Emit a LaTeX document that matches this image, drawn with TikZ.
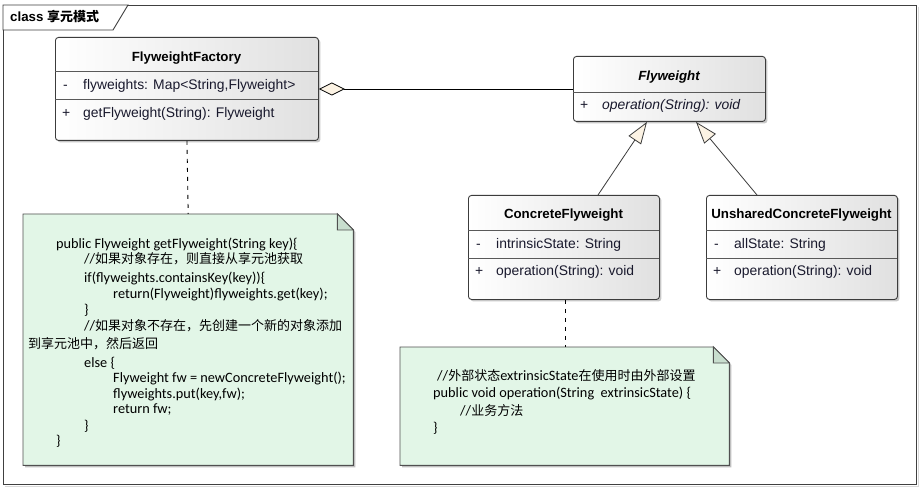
\documentclass[tikz,border=0pt]{standalone}
\usepackage{fontspec}
\setmainfont{Liberation Sans}
\newfontfamily\notefont{Carlito}
\newfontfamily\cjk{Noto Sans CJK SC}
\usetikzlibrary{shadows,calc,arrows.meta}
\definecolor{notefill}{RGB}{226,246,231}
\definecolor{foldfill}{RGB}{200,222,206}
\definecolor{arrowfill}{RGB}{252,243,228}
\definecolor{edgegray}{RGB}{60,60,60}
\definecolor{txt}{RGB}{25,25,45}
\newcommand{\zh}[1]{{\cjk\fontsize{13}{16}\selectfont #1}}
\tikzset{
  classbox/.style={draw=edgegray, line width=0.9pt, rounded corners=3pt, left color=white, right color=black!12,
    drop shadow={shadow xshift=2pt, shadow yshift=-2pt, fill=black!22, opacity=1}, anchor=north west, inner sep=0pt},
  sepline/.style={draw=edgegray!85, line width=0.9pt},
  ctitle/.style={anchor=base, inner sep=0pt, text=black, font=\fontsize{13.3}{15}\selectfont\bfseries},
  ctext/.style={anchor=base west, inner sep=0pt, text=txt, font=\fontsize{13.9}{15}\selectfont},
  notebox/.style={anchor=north west, inner sep=0pt},
  notepath/.style={draw=edgegray!90, line width=0.9pt, fill=notefill,
    drop shadow={shadow xshift=2pt, shadow yshift=-2pt, fill=black!25, opacity=1}},
  foldpath/.style={draw=edgegray!90, line width=0.9pt, fill=foldfill},
  ntext/.style={anchor=base west, inner sep=0pt, text=black, font=\notefont\fontsize{14.3}{16}\selectfont},
  agg/.style={draw=black, line width=0.8pt, {Diamond[length=26pt,width=13pt,fill=arrowfill,line width=0.8pt]}-},
  gen/.style={draw=edgegray, line width=0.8pt, -{Triangle[length=22pt,width=15pt,fill=arrowfill,line width=0.8pt]}},
  notelink/.style={draw=black, line width=0.9pt, dash pattern=on 4pt off 5pt},
}
\begin{document}
\begin{tikzpicture}[x=1pt,y=-1pt]
\useasboundingbox (0,0) rectangle (921,489);
\fill[white] (0,0) rectangle (921,489);
% frame
\draw[black!75, line width=0.9pt] (3,5) rectangle (916,484);
\draw[black!15, line width=1pt] (918,7) -- (918,486) -- (5,486);
\draw[black!75, line width=0.9pt, fill=white] (3,5) -- (128,5) -- (113,30) -- (3,30) -- cycle;
\node[anchor=base west, inner sep=0pt, font=\fontsize{13.3}{15}\selectfont\bfseries] (title) at (10,22) {class \zh{\bfseries 享元模式}};

% FlyweightFactory
\node[classbox, minimum width=263pt, minimum height=103pt] (ff) at (55,37) {};
\draw[sepline] (55,71) -- (318,71);
\draw[sepline] (55,99) -- (318,99);
\node[ctitle] (fft) at (186.5,62) {FlyweightFactory};
\node[ctext] (ffa1) at (63,90) {-};
\node[ctext] (ffa2) at (83,90) {flyweights: Map<String,Flyweight>};
\node[ctext] (ffo1) at (62,118) {+};
\node[ctext] (ffo2) at (83,118) {getFlyweight(String): Flyweight};

% Flyweight
\node[classbox, minimum width=192pt, minimum height=65pt] (fw) at (573,56) {};
\draw[sepline] (573,92) -- (765,92);
\node[ctitle, font=\fontsize{13.3}{15}\selectfont\bfseries\itshape] (fwt) at (669,81) {Flyweight};
\node[ctext] (fwo1) at (580,110) {+};
\node[ctext, font=\fontsize{13.9}{15}\selectfont\itshape] (fwo2) at (602,110) {operation(String): void};

% ConcreteFlyweight
\node[classbox, minimum width=191pt, minimum height=104pt] (cf) at (468,195) {};
\draw[sepline] (468,230) -- (659,230);
\draw[sepline] (468,258) -- (659,258);
\node[ctitle] (cft) at (563.5,219) {ConcreteFlyweight};
\node[ctext] (cfa1) at (476,248) {-};
\node[ctext] (cfa2) at (496,248) {intrinsicState: String};
\node[ctext] (cfo1) at (475,276) {+};
\node[ctext] (cfo2) at (496,276) {operation(String): void};

% UnsharedConcreteFlyweight
\node[classbox, minimum width=191pt, minimum height=104pt] (uf) at (706,195) {};
\draw[sepline] (706,230) -- (897,230);
\draw[sepline] (706,258) -- (897,258);
\node[ctitle] (uft) at (801.5,219) {UnsharedConcreteFlyweight};
\node[ctext] (ufa1) at (714,248) {-};
\node[ctext] (ufa2) at (734,248) {allState: String};
\node[ctext] (ufo1) at (713,276) {+};
\node[ctext] (ufo2) at (734,276) {operation(String): void};

% Note 1
\node[notebox, minimum width=330pt, minimum height=251pt] (n1) at (23,214) {};
\path[notepath] (n1.north west) -- ($(n1.north east)+(-16,0)$) -- ($(n1.north east)+(0,16)$) -- (n1.south east) -- (n1.south west) -- cycle;
\path[foldpath] ($(n1.north east)+(-16,0)$) -- ($(n1.north east)+(-16,16)$) -- ($(n1.north east)+(0,16)$) -- cycle;
\node[ntext] (l1) at (56,248) {public Flyweight getFlyweight(String key)\{};
\node[ntext] (l2) at (84,263.5) {//\zh{如果对象存在，则直接从享元池获取}};
\node[ntext] (l3) at (84,282) {if(flyweights.containsKey(key))\{};
\node[ntext] (l4) at (113,298) {return(Flyweight)flyweights.get(key);};
\node[ntext] (l5) at (84,314) {\}};
\node[ntext] (l6) at (84,330.5) {//\zh{如果对象不存在，先创建一个新的对象添加}};
\node[ntext] (l7) at (28,348.5) {\zh{到享元池中，然后返回}};
\node[ntext] (l8) at (84,367) {else \{};
\node[ntext] (l9) at (113,382) {Flyweight fw = newConcreteFlyweight();};
\node[ntext] (l10) at (113,398) {flyweights.put(key,fw);};
\node[ntext] (l11) at (113,413) {return fw;};
\node[ntext] (l12) at (84,430) {\}};
\node[ntext] (l13) at (56,445) {\}};

% Note 2
\node[notebox, minimum width=329pt, minimum height=118pt] (n2) at (400,347) {};
\path[notepath] (n2.north west) -- ($(n2.north east)+(-16,0)$) -- ($(n2.north east)+(0,16)$) -- (n2.south east) -- (n2.south west) -- cycle;
\path[foldpath] ($(n2.north east)+(-16,0)$) -- ($(n2.north east)+(-16,16)$) -- ($(n2.north east)+(0,16)$) -- cycle;
\node[ntext] (m1) at (437,380) {//\zh{外部状态}extrinsicState\zh{在使用时由外部设置}};
\node[ntext] (m2) at (433,397.5) {public void operation(String\ \ extrinsicState) \{};
\node[ntext] (m3) at (460,415) {//\zh{业务方法}};
\node[ntext] (m4) at (433,432.5) {\}};

% connectors
\draw[agg] ($(ff.north east)+(0,52)$) -- ($(fw.north west)+(0,33)$);
\draw[gen] ($(cf.north west)+(130,0)$) -- ($(fw.south west)+(74,0)$);
\draw[gen] ($(uf.north west)+(51,0)$) -- ($(fw.south west)+(123,0)$);
\draw[notelink] (ff.south) -- (n1.north);
\draw[notelink] ($(cf.south west)+(97,0)$) -- ($(n2.north west)+(165,0)$);
\end{tikzpicture}
\end{document}
